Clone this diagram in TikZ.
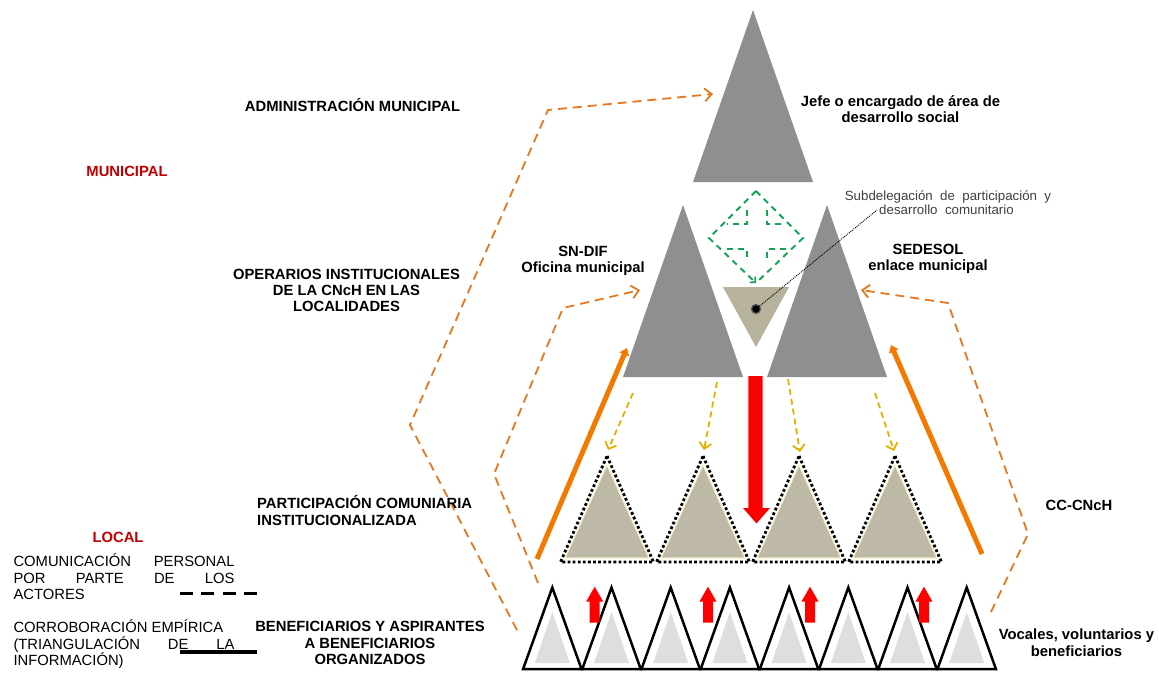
\documentclass[tikz,border=0pt]{standalone}
\usepackage{fontspec}
\setmainfont{Liberation Sans}
\usetikzlibrary{arrows.meta}
\definecolor{trigray}{HTML}{8F8F8F}
\definecolor{tanfill}{HTML}{BDB9A6}
\definecolor{tanglow}{HTML}{F4F0CC}
\definecolor{subtan}{HTML}{B7B29C}
\definecolor{dashorange}{HTML}{E5781E}
\definecolor{solidorange}{HTML}{F27A00}
\definecolor{goldy}{HTML}{E3B100}
\definecolor{quadgreen}{HTML}{12A454}
\definecolor{levelred}{HTML}{C00000}
\definecolor{subgray}{HTML}{404040}
\definecolor{innergray}{HTML}{DEDEDE}
\begin{document}
\begin{tikzpicture}[x=1pt,y=-1pt,
  lbl/.style={font=\fontsize{14.8}{16.3}\selectfont\bfseries, inner sep=0pt, anchor=base},
  lgd/.style={font=\fontsize{14.8}{16.3}\selectfont, inner sep=0pt, anchor=base west},
  sub/.style={font=\fontsize{13.3}{14}\selectfont, text=subgray, inner sep=0pt, anchor=base},
  odash/.style={draw=dashorange, line width=1.8pt, dash pattern=on 9pt off 6pt},
  otip/.style={-{Straight Barb[length=7pt,width=13pt,line width=1.8pt]}},
  ysolid/.style={draw=solidorange, line width=5pt, -{Triangle[length=7pt,width=10pt]}},
  ydash/.style={draw=goldy, line width=1.8pt, dash pattern=on 6pt off 4pt,
     -{Straight Barb[length=6pt,width=12pt,line width=1.8pt]}},
  gdash/.style={draw=quadgreen, line width=1.9pt, dash pattern=on 6pt off 5pt},
  graytri/.style={fill=trigray},
  tantri/.style={fill=tanfill, draw=tanglow, line width=1.2pt},
  dotout/.style={draw=black, line width=2.8pt, dash pattern=on 2.8pt off 2.3pt},
  whitetri/.style={draw=black, fill=white, line width=2.5pt, line join=miter},
  redup/.style={fill=red},
]
\useasboundingbox (0,0) rectangle (1159,672);
\fill[white] (0,0) rectangle (1159,672);

% ---------- gray triangles ----------
\fill[graytri] (753,10) -- (813,182) -- (693,182) -- cycle;
\fill[graytri] (683,205) -- (743,377) -- (623,377) -- cycle;
\fill[graytri] (827,205) -- (887,377) -- (767,377) -- cycle;

% inverted small tan triangle
\fill[subtan] (723,287) -- (789,287) -- (756,347) -- cycle;

% green dashed quad shape
\coordinate (qT) at (756,191);
\coordinate (qL) at (709,238);
\coordinate (qR) at (803,238);
\coordinate (qB) at (756,283);
\draw[gdash, -{Straight Barb[length=4pt,width=8pt,line width=1.6pt]}] (qT) -- (qL) -- (qB);
\draw[gdash] (qT) -- (qR) -- (qB);
\draw[gdash] (747,210) -- (747,224) -- (727,224);
\draw[gdash] (767,210) -- (767,224) -- (786,224);
\draw[gdash] (727,249) -- (747,249) -- (747,262);
\draw[gdash] (786,249) -- (767,249) -- (767,262);

% black dot and dotted leader
\node[circle, fill=black, draw=black!65, line width=1.2pt, minimum size=9pt, inner sep=0pt] (dot) at (756,309) {};
\coordinate (lead) at (877,210);
\draw[black, line width=0.9pt, dash pattern=on 1pt off 1pt] (dot.center) -- (lead);

% ---------- tan triangles (dotted) ----------
\foreach \cx [count=\i] in {607,703,799,895} {
  \fill[tanfill] (\cx,465) -- (\cx+42,558) -- (\cx-42,558) -- cycle;
  \draw[tanglow, line width=1.2pt] (\cx,465) -- (\cx+42,558) -- (\cx-42,558) -- cycle;
  \draw[dotout] (\cx,456) -- (\cx+46.5,562) -- (\cx-46.5,562) -- cycle;
  \coordinate (tan\i) at (\cx,452);
}

% red down arrow
\fill[red] (748.3,376) -- (762.7,376) -- (762.7,508) -- (770,508) -- (756.5,523.5)
   -- (743,508) -- (748.3,508) -- cycle;

% ---------- bottom white triangles ----------
\foreach \cx [count=\i] in {552.3,611.5,670.7,729.9,789.1,848.3,907.5,966.7} {
  \draw[whitetri] (\cx,587.5) -- (\cx+29.2,669) -- (\cx-29.2,669) -- cycle;
  \fill[innergray] (\cx,612) -- (\cx+17.5,663) -- (\cx-17.5,663) -- cycle;
  \coordinate (bt\i) at (\cx,587.5);
}
% small red up arrows
\foreach \ax in {594.7,708,810,924} {
  \fill[redup] (\ax,586.7) -- (\ax+8.6,601.7) -- (\ax+5,601.7) -- (\ax+5,622.7)
     -- (\ax-5,622.7) -- (\ax-5,601.7) -- (\ax-8.6,601.7) -- cycle;
}

% ---------- yellow dashed arrows ----------
\coordinate (y1s) at (633,393); \coordinate (y1e) at (608,450);
\coordinate (y2s) at (717,382); \coordinate (y2e) at (704,450);
\coordinate (y3s) at (788,379); \coordinate (y3e) at (800,452);
\coordinate (y4s) at (875,393); \coordinate (y4e) at (894,451);
\draw[ydash] (y1s) -- (y1e);
\draw[ydash] (y2s) -- (y2e);
\draw[ydash] (y3s) -- (y3e);
\draw[ydash] (y4s) -- (y4e);

% ---------- orange solid arrows ----------
\coordinate (sl1) at (537,559); \coordinate (sl2) at (627,348);
\coordinate (sr1) at (982,554); \coordinate (sr2) at (891,345);
\draw[ysolid] (sl1) -- (sl2);
\draw[ysolid] (sr1) -- (sr2);

% ---------- orange dashed paths ----------
\coordinate (a1) at (517,630); \coordinate (a2) at (410,425);
\coordinate (a3) at (548,110); \coordinate (a4) at (713,94);
\draw[odash, otip] (a1) -- (a2) -- (a3) -- (a4);
\coordinate (b1) at (538,583); \coordinate (b2) at (494,474);
\coordinate (b3) at (563,308); \coordinate (b4) at (640,290);
\draw[odash, otip] (b1) -- (b2) -- (b3) -- (b4);
\coordinate (c1) at (991,612); \coordinate (c2) at (1028,534);
\coordinate (c3) at (948,303); \coordinate (c4) at (861,290);
\draw[odash, otip] (c1) -- (c2) -- (c3) -- (c4);

% ---------- labels ----------
\node[lbl] (admin) at (352.5,111) {ADMINISTRACIÓN MUNICIPAL};
\node[lbl, text=levelred] (mun) at (127,176.5) {MUNICIPAL};
\node[lbl] (op1) at (346.5,279) {OPERARIOS INSTITUCIONALES};
\node[lbl] (op2) at (346.5,295.3) {DE LA CNcH EN LAS};
\node[lbl] (op3) at (346.5,311.6) {LOCALIDADES};
\node[lbl] (dif1) at (583,256.5) {SN-DIF};
\node[lbl] (dif2) at (583,272.5) {Oficina municipal};
\node[lbl] (sed1) at (928,254) {SEDESOL};
\node[lbl] (sed2) at (928,270) {enlace municipal};
\node[lbl] (jefe1) at (900.5,106.7) {Jefe o encargado de área de};
\node[lbl] (jefe2) at (900.5,122.7) {desarrollo social};
\node[sub] (sub1) at (948,200) {Subdelegación\ \ de\ \ participación\ \ y};
\node[sub] (sub2) at (946.5,214) {desarrollo\ \ comunitario};
\node[lbl, anchor=base west] (pc1) at (257,508.3) {PARTICIPACIÓN COMUNIARIA};
\node[lbl, anchor=base west] (pc2) at (257,525) {INSTITUCIONALIZADA};
\node[lbl] (cc) at (1079,510) {CC-CNcH};
\node[lbl, text=levelred] (loc) at (118,542.7) {LOCAL};
\node[lbl] (ben1) at (370,631.7) {BENEFICIARIOS Y ASPIRANTES};
\node[lbl] (ben2) at (370,648) {A BENEFICIARIOS};
\node[lbl] (ben3) at (370,664.3) {ORGANIZADOS};
\node[lbl] (voc1) at (1076.5,639.5) {Vocales, voluntarios y};
\node[lbl] (voc2) at (1076.5,656) {beneficiarios};

% ---------- legend ----------
\node[lgd] (lg1) at (13.3,566.7) {\makebox[221pt][s]{COMUNICACIÓN PERSONAL}};
\node[lgd] (lg2) at (13.3,583.3) {\makebox[221pt][s]{POR PARTE DE LOS}};
\node[lgd] (lg3) at (13.3,599.6) {ACTORES};
\node[lgd] (lg4) at (13.3,632.7) {CORROBORACIÓN EMPÍRICA};
\node[lgd] (lg5) at (13.3,649) {\makebox[221pt][s]{(TRIANGULACIÓN DE LA}};
\node[lgd] (lg6) at (13.3,665.5) {INFORMACIÓN)};
\coordinate (ld1) at (180,593.5); \coordinate (ld2) at (257,593.5);
\draw[black, line width=3pt, dash pattern=on 13pt off 8.3pt] (ld1) -- (ld2);
\coordinate (ls1) at (180,651.7); \coordinate (ls2) at (257,651.7);
\draw[black, line width=4pt] (ls1) -- (ls2);
\end{tikzpicture}
\end{document}
